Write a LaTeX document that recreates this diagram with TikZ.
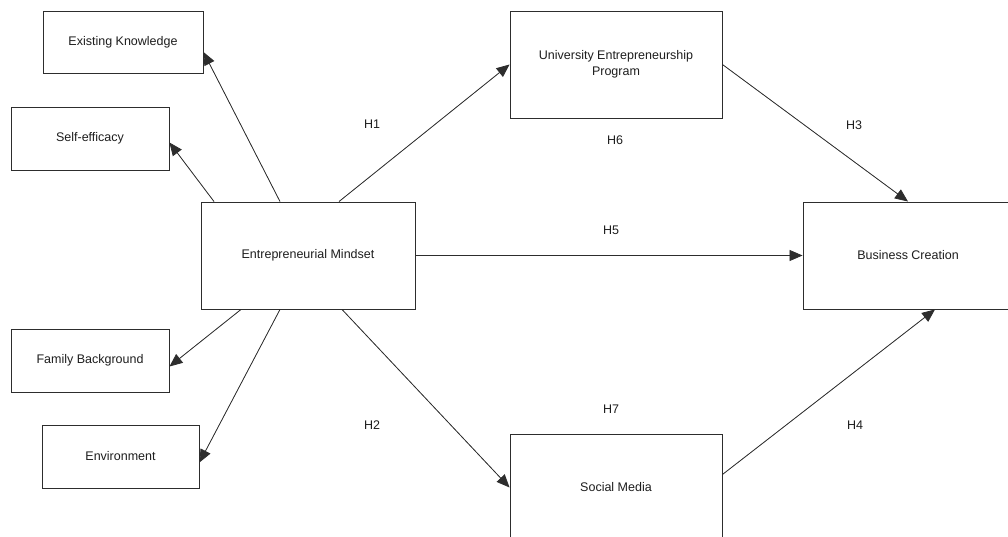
\documentclass[tikz,border=0pt]{standalone}
\usepackage{fontspec}
\setmainfont{Liberation Sans}
\usepackage{tikz}
\usetikzlibrary{arrows.meta, positioning}
\definecolor{grisLinea}{RGB}{45,45,45}
\definecolor{grisTexto}{RGB}{30,30,30}
\tikzset{
  cm/box/.style={rectangle, draw=grisLinea, fill=white, line width=0.9pt,
    font=\fontsize{12.5}{16}\selectfont\color{grisTexto}, align=center,
    inner sep=2pt},
  cm/small/.style={cm/box, minimum width=158pt, minimum height=63pt},
  cm/big/.style={cm/box, minimum width=212pt, minimum height=107pt},
  cm/arr/.style={-{Triangle[length=13pt,width=11pt]}, line width=0.8pt,
    draw=grisLinea, fill=black},
  cm/lbl/.style={font=\fontsize{12.5}{16}\selectfont\color{grisTexto},
    inner sep=1pt}
}
\begin{document}
\begin{tikzpicture}[x=1pt, y=-1pt]
    \useasboundingbox (0,0) rectangle (1008,537);
    \clip (0,0) rectangle (1008,537);
    % left side: factors of the mindset
    \node[cm/small, minimum width=160pt, minimum height=62pt] (ek) at (123,42) {Existing Knowledge};
    \node[cm/small] (se) at (90,138.5) {Self-efficacy};
    \node[cm/small] (fb) at (90,360.5) {Family Background};
    \node[cm/small, minimum width=157pt] (env) at (120.5,456.5) {Environment};
    % main constructs
    \node[cm/big, minimum width=214pt] (em) at (308,255.5) {Entrepreneurial Mindset};
    \node[cm/big] (uep) at (616,64.5) {University Entrepreneurship\\Program};
    \node[cm/big, minimum width=210pt] (bc) at (908,255.5) {Business Creation};
    \node[cm/big] (sm) at (616,487.5) {Social Media};
    % connectors
    \draw[cm/arr] ([xshift=-28pt]em.north) -- ([yshift=-10pt]ek.east);
    \draw[cm/arr] ([xshift=-94pt]em.north) -- ([yshift=-4pt]se.east);
    \draw[cm/arr] ([xshift=31pt]em.north) -- (uep.west);
    \draw[cm/arr] (uep.east) -- (bc.north);
    \draw[cm/arr] (em.east) -- (bc.west);
    \draw[cm/arr] ([xshift=-67pt]em.south) -- ([yshift=-6pt]fb.east);
    \draw[cm/arr] ([xshift=-28pt]em.south) -- ([yshift=-6pt]env.east);
    \draw[cm/arr] ([xshift=34pt]em.south) -- (sm.west);
    \draw[cm/arr] ([yshift=13pt]sm.east) -- ([xshift=27pt]bc.south);
    % hypotheses
    \node[cm/lbl] (h1) at (372,124) {H1};
    \node[cm/lbl] (h2) at (372,425) {H2};
    \node[cm/lbl] (h3) at (854,125) {H3};
    \node[cm/lbl] (h4) at (855,425) {H4};
    \node[cm/lbl] (h5) at (611,230) {H5};
    \node[cm/lbl] (h6) at (615,140) {H6};
    \node[cm/lbl] (h7) at (611,409) {H7};
\end{tikzpicture}
\end{document}
